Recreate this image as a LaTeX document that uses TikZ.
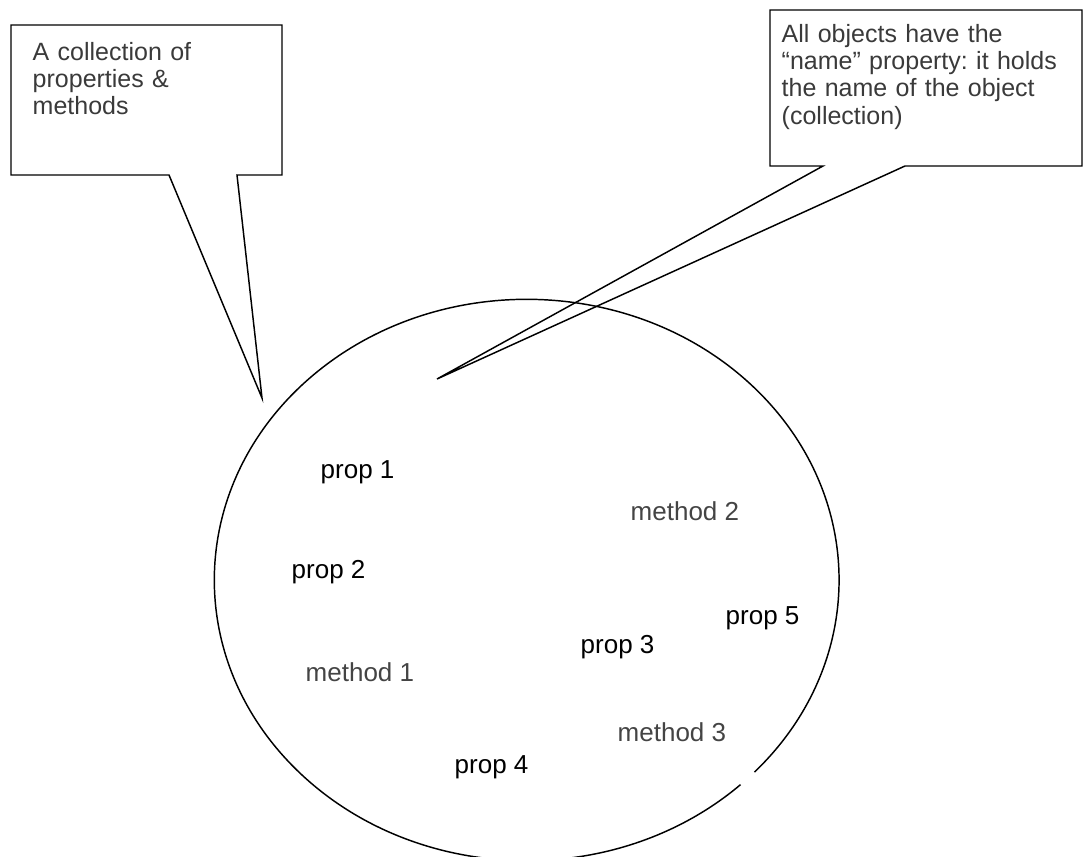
\documentclass[tikz,border=0pt]{standalone}
\usepackage{fontspec}
\setmainfont{Liberation Sans}
\definecolor{boxgray}{HTML}{3A3A3A}
\definecolor{methodgray}{HTML}{444444}
\frenchspacing
\begin{document}
\begin{tikzpicture}[x=0.75pt,y=-0.75pt,line width=1.1pt,
  outline/.style={draw=black,line width=1.1pt,line join=miter},
  boxtext/.style={anchor=base west,inner sep=0pt,text width=260pt,align=left,
    font=\fontsize{18.75}{20.6}\selectfont\frenchspacing,text=boxgray},
  proplbl/.style={anchor=base west,inner sep=0pt,font=\fontsize{19.5}{22}\selectfont,text=black},
  methodlbl/.style={proplbl,text=methodgray}]
\useasboundingbox (0,0) rectangle (1083,857);
\clip (0,0) rectangle (1083,857);

% object (ellipse with a small gap at the lower right)
\coordinate (c) at (526.7,580);
\draw[outline] (c) ++(46.8:312.4 and 280.7)
  arc[start angle=46.8,end angle=403.2,x radius=312.4,y radius=280.7];

% left callout
\coordinate (la) at (11,25);
\coordinate (lb) at (282,25);
\coordinate (lc) at (282,175);
\coordinate (ld) at (237,175);
\coordinate (ltip) at (262,398);
\coordinate (le) at (169,175);
\coordinate (lf) at (11,175);
\draw[outline] (la) -- (lb) -- (lc) -- (ld) -- (ltip) -- (le) -- (lf) -- cycle;
\node[boxtext] (ltext) at (32,60) {A collection of\\properties \&\\methods};

% right callout
\coordinate (ra) at (770,10);
\coordinate (rb) at (1082,10);
\coordinate (rc) at (1082,166);
\coordinate (rd) at (905,166);
\coordinate (rtip) at (437,379);
\coordinate (re) at (823,166);
\coordinate (rf) at (770,166);
\draw[outline] (ra) -- (rb) -- (rc) -- (rd) -- (rtip) -- (re) -- (rf) -- cycle;
\node[boxtext] (rtext) at (781,42) {All objects have the\\“name” property: it holds\\the name of the object\\(collection)};

% members
\node[proplbl] (p1) at (320,478) {prop 1};
\node[proplbl] (p2) at (291,578) {prop 2};
\node[proplbl] (p3) at (580,653) {prop 3};
\node[proplbl] (p4) at (454,773) {prop 4};
\node[proplbl] (p5) at (725,624) {prop 5};
\node[methodlbl] (m1) at (305,681) {method 1};
\node[methodlbl] (m2) at (630,520) {method 2};
\node[methodlbl] (m3) at (617,741) {method 3};
\end{tikzpicture}
\end{document}
